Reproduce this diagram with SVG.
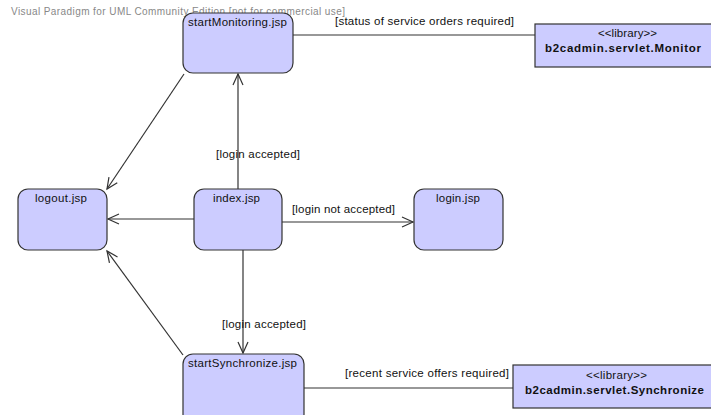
<svg xmlns="http://www.w3.org/2000/svg" width="711" height="415" viewBox="0 0 711 415">
  <defs>
    <style>
      .state { fill: #ccccff; stroke: #333333; stroke-width: 1.2; }
      .lib { fill: #ccccff; stroke: #333333; stroke-width: 1.2; }
      .edge { fill: none; stroke: #333333; stroke-width: 1.2; }
      .t { font-family: "Liberation Sans", Arial, sans-serif; font-size: 11.5px; fill: #111111; }
      .b { font-weight: bold; }
      .wm { font-family: "Liberation Sans", Arial, sans-serif; font-size: 10px; fill: #888888; }
    </style>
    <marker id="open" markerWidth="14" markerHeight="14" refX="12" refY="6" orient="auto" markerUnits="userSpaceOnUse">
      <path d="M1,1 L12,6 L1,11" fill="none" stroke="#333333" stroke-width="1.2"/>
    </marker>
  </defs>

  <rect width="711" height="415" fill="#ffffff"/>

  <text class="wm" x="11" y="15" textLength="334">Visual Paradigm for UML Community Edition [not for commercial use]</text>

  <!-- transitions and dependencies -->
  <g id="connectors">
    <line class="edge" x1="293" y1="35" x2="535" y2="35"/>
    <line class="edge" x1="304" y1="388" x2="513" y2="388"/>
    <line class="edge" x1="238" y1="189" x2="238" y2="74" marker-end="url(#open)"/>
    <line class="edge" x1="243" y1="250" x2="243" y2="353" marker-end="url(#open)"/>
    <line class="edge" x1="194" y1="219" x2="108" y2="219" marker-end="url(#open)"/>
    <line class="edge" x1="282" y1="222" x2="413" y2="222" marker-end="url(#open)"/>
    <line class="edge" x1="184" y1="74" x2="107" y2="189" marker-end="url(#open)"/>
    <line class="edge" x1="183" y1="355" x2="107" y2="251" marker-end="url(#open)"/>
    <text class="t" x="335" y="25" textLength="179" lengthAdjust="spacing">[status of service orders required]</text>
    <text class="t" x="345" y="377" textLength="164" lengthAdjust="spacing">[recent service offers required]</text>
    <text class="t" x="216" y="158" textLength="84" lengthAdjust="spacing">[login accepted]</text>
    <text class="t" x="222" y="328" textLength="84" lengthAdjust="spacing">[login accepted]</text>
    <text class="t" x="292" y="213" textLength="103" lengthAdjust="spacing">[login not accepted]</text>
  </g>

  <g id="startMonitoring">
    <rect class="state" x="183" y="13" width="110" height="60" rx="10"/>
    <text class="t" x="188" y="26" textLength="99" lengthAdjust="spacing">startMonitoring.jsp</text>
  </g>

  <g id="logout">
    <rect class="state" x="18" y="189" width="89" height="61" rx="10"/>
    <text class="t" x="35" y="202" textLength="52" lengthAdjust="spacing">logout.jsp</text>
  </g>

  <g id="index">
    <rect class="state" x="194" y="189" width="88" height="61" rx="10"/>
    <text class="t" x="213" y="202" textLength="47" lengthAdjust="spacing">index.jsp</text>
  </g>

  <g id="login">
    <rect class="state" x="414" y="189" width="89" height="61" rx="10"/>
    <text class="t" x="436" y="202" textLength="44" lengthAdjust="spacing">login.jsp</text>
  </g>

  <g id="startSynchronize">
    <rect class="state" x="183" y="354" width="121" height="70" rx="10"/>
    <text class="t" x="188" y="367" textLength="109" lengthAdjust="spacing">startSynchronize.jsp</text>
  </g>

  <g id="monitorLib">
    <rect class="lib" x="535" y="24" width="180" height="43"/>
    <text class="t" x="598" y="37" textLength="59" lengthAdjust="spacing">&lt;&lt;library&gt;&gt;</text>
    <text class="t b" x="545" y="52" textLength="156" lengthAdjust="spacing">b2cadmin.servlet.Monitor</text>
  </g>

  <g id="synchronizeLib">
    <rect class="lib" x="513" y="365" width="202" height="43"/>
    <text class="t" x="586" y="379" textLength="61" lengthAdjust="spacing">&lt;&lt;library&gt;&gt;</text>
    <text class="t b" x="525" y="394" textLength="179" lengthAdjust="spacing">b2cadmin.servlet.Synchronize</text>
  </g>
</svg>
